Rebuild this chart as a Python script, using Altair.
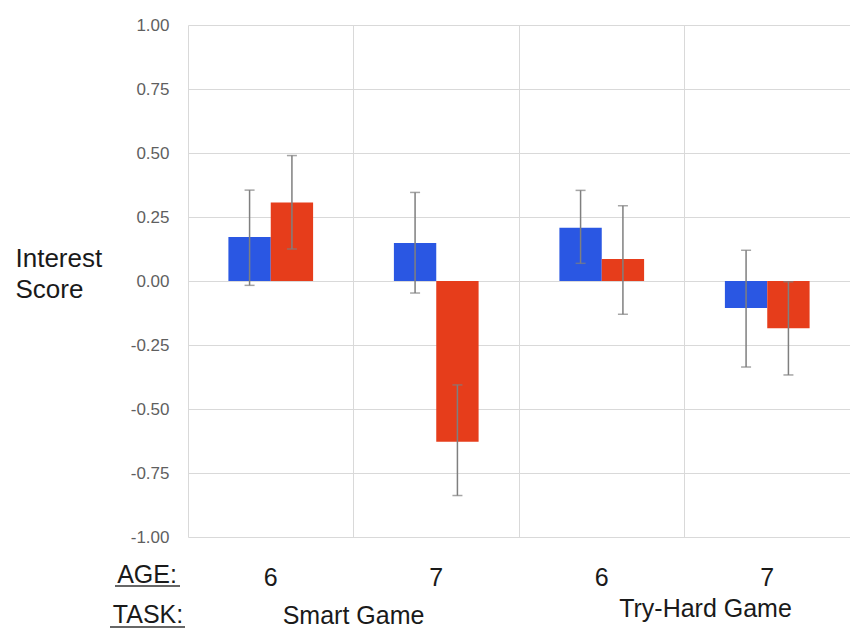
import altair as alt
import pandas as pd

# ---- data ----
categories = ["Smart-6", "Smart-7", "TryHard-6", "TryHard-7"]
ages = ["6", "7", "6", "7"]
series = ["A", "B"]
blue_mean = [0.172, 0.148, 0.208, -0.105]
blue_low = [-0.017, -0.047, 0.069, -0.336]
blue_high = [0.355, 0.346, 0.354, 0.120]
red_mean = [0.307, -0.628, 0.086, -0.185]
red_low = [0.125, -0.838, -0.130, -0.367]
red_high = [0.490, -0.406, 0.294, -0.003]
task_names = ["Smart Game", "Try-Hard Game"]
row_titles = ["AGE:", "TASK:"]
y_ticks = [-1.0, -0.75, -0.5, -0.25, 0.0, 0.25, 0.5, 0.75, 1.0]

BLUE = "#2a57e3"
RED = "#e63d1b"
ERR = "#7f7f7f"
GRID = "#d9d9d9"
FONT = "Liberation Sans"
TXT = "#1a1a1a"

rows = []
for i, c in enumerate(categories):
    rows.append(dict(cat=c, s=series[0], v=blue_mean[i], lo=blue_low[i], hi=blue_high[i]))
    rows.append(dict(cat=c, s=series[1], v=red_mean[i], lo=red_low[i], hi=red_high[i]))
df = pd.DataFrame(rows)

age_df = pd.DataFrame({"cat": categories, "age": ages})
smart_df = pd.DataFrame({"cat": [categories[1]], "t": [task_names[0]]})
try_df = pd.DataFrame({"cat": [categories[3]], "t": [task_names[1]]})

xscale = alt.Scale(domain=categories, paddingInner=0, paddingOuter=0)
xoff = alt.XOffset("s:N", scale=alt.Scale(domain=series, paddingOuter=0.954, paddingInner=0))
yscale = alt.Scale(domain=[-1, 1], nice=False, zero=True)

x_axis = alt.Axis(grid=True, bandPosition=0, labels=False, ticks=False,
                  domain=False, title=None, gridColor=GRID, gridWidth=1)
y_axis = alt.Axis(values=y_ticks,
                  labelExpr="replace(format(datum.value, '.2f'), '\u2212', '-')",
                  labelFont=FONT, labelFontSize=17, labelColor="#5f5f5f",
                  labelPadding=19, ticks=False, tickSize=0, domain=False,
                  gridColor=GRID, gridWidth=1,
                  title=["Interest", "Score"], titleAngle=0, titleAlign="left",
                  titleBaseline="alphabetic", titleX=-173, titleY=241,
                  titleFont=FONT, titleFontSize=26, titleColor=TXT,
                  titleFontWeight="normal", titleLineHeight=31)

xn = alt.X("cat:N", scale=xscale, sort=categories, axis=x_axis)
xs = alt.X("cat:N", scale=xscale, sort=categories, axis=x_axis, bandPosition=0)

base = alt.Chart(df)

bars = base.mark_bar().encode(
    x=xn,
    xOffset=xoff,
    y=alt.Y("v:Q", scale=yscale, axis=y_axis),
    color=alt.Color("s:N", scale=alt.Scale(domain=series, range=[BLUE, RED]), legend=None),
)

err = base.mark_rule(color=ERR, strokeWidth=1.5).encode(
    x=xn, xOffset=xoff, y=alt.Y("lo:Q", scale=yscale, axis=y_axis), y2="hi:Q")
cap_lo = base.mark_tick(color=ERR, thickness=1.5, size=10).encode(
    x=xn, xOffset=xoff, y=alt.Y("lo:Q", scale=yscale, axis=y_axis))
cap_hi = base.mark_tick(color=ERR, thickness=1.5, size=10).encode(
    x=xn, xOffset=xoff, y=alt.Y("hi:Q", scale=yscale, axis=y_axis))

age_text = alt.Chart(age_df).mark_text(font=FONT, fontSize=25, color=TXT, baseline="middle").encode(
    x=xn, y=alt.value(553), text="age:N")

smart_text = alt.Chart(smart_df).mark_text(font=FONT, fontSize=25, color=TXT, baseline="middle").encode(
    x=xs, y=alt.value(591), text="t:N")
try_text = alt.Chart(try_df).mark_text(font=FONT, fontSize=25, color=TXT, baseline="middle", dx=21).encode(
    x=xs, y=alt.value(584), text="t:N")

age_title = alt.Chart(pd.DataFrame({"t": [row_titles[0]]})).mark_text(
    font=FONT, fontSize=25, color=TXT, baseline="middle", align="center").encode(
    x=alt.value(-41), y=alt.value(550), text="t:N")
task_title = alt.Chart(pd.DataFrame({"t": [row_titles[1]]})).mark_text(
    font=FONT, fontSize=25, color=TXT, baseline="middle", align="center").encode(
    x=alt.value(-40), y=alt.value(590), text="t:N")

age_ul = alt.Chart(pd.DataFrame({"t": [0]})).mark_rule(color="#333333", strokeWidth=1.5).encode(
    x=alt.value(-73), x2=alt.value(-8), y=alt.value(561))
task_ul = alt.Chart(pd.DataFrame({"t": [0]})).mark_rule(color="#333333", strokeWidth=1.5).encode(
    x=alt.value(-78), x2=alt.value(-3), y=alt.value(602))

chart = alt.layer(
    bars, err, cap_lo, cap_hi, age_text, smart_text, try_text,
    age_title, task_title, age_ul, task_ul
).properties(
    width=662, height=512,
    autosize=alt.AutoSizeParams(type="none"),
    padding={"left": 180, "top": 17, "right": 0, "bottom": 93},
).configure_view(strokeWidth=0)

chart.save("out.html", embed_options={"renderer": "svg", "actions": False})
